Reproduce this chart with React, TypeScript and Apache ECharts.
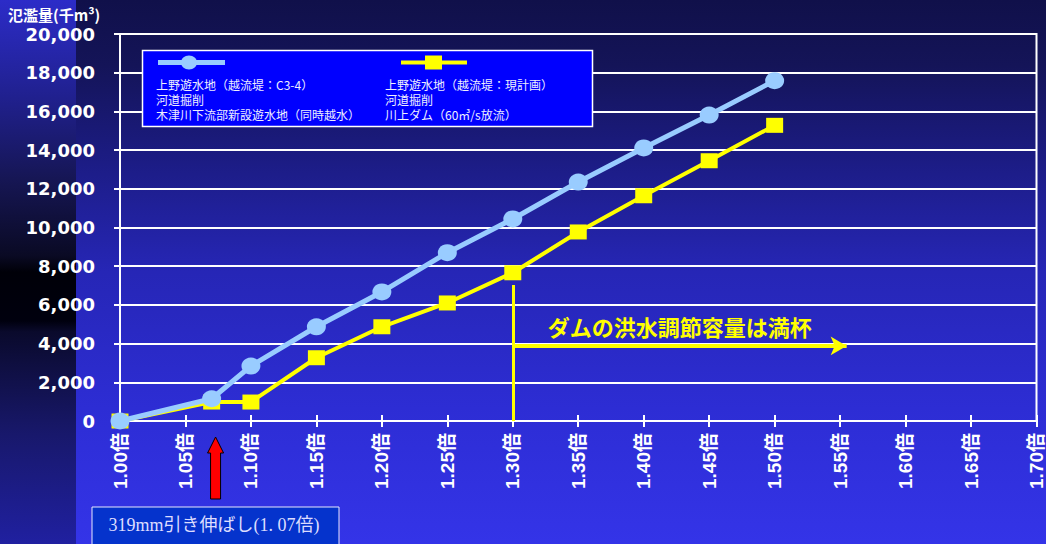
import React, { useEffect, useRef } from "react";
import * as echarts from "echarts";

// ---- data ----
const xMultipliers = [1.0, 1.07, 1.1, 1.15, 1.2, 1.25, 1.3, 1.35, 1.4, 1.45, 1.5];
const seriesC34 = [0, 1150, 2840, 4870, 6670, 8700, 10440, 12350, 14110, 15810, 17590];
const seriesPlan = [0, 980, 980, 3270, 4870, 6100, 7660, 9770, 11640, 13450, 15280];

const legendLeftLines = ["上野遊水地（越流堤：C3-4）", "河道掘削", "木津川下流部新設遊水地（同時越水）"];
const legendRightLines = ["上野遊水地（越流堤：現計画）", "河道掘削", "川上ダム（60㎥/s放流）"];

const yTitle = "氾濫量(千m³)";
const damFullText = "ダムの洪水調節容量は満杯";
const damFullX = 1.3;
const damLineTop = 7030;
const damArrowY = 3880;
const damArrowEndX = 1.555;
const stretchX = 1.073;
const stretchText = "319mm引き伸ばし(1. 07倍)";

const xMin = 1.0;
const xMax = 1.7;
const xStep = 0.05;
const yMin = 0;
const yMax = 20000;
const yStep = 2000;

const CJK = "'Noto Sans CJK JP', sans-serif";

export default function App() {
  const ref = useRef<HTMLDivElement>(null);

  useEffect(() => {
    if (!ref.current) return;
    const chart = echarts.init(ref.current, null, { renderer: "svg" });

    const option: any = {
      animation: false,
      backgroundColor: new echarts.graphic.LinearGradient(0, 0, 0, 1, [
        { offset: 0, color: "#10104a" },
        { offset: 0.12, color: "#141458" },
        { offset: 0.28, color: "#1b1b80" },
        { offset: 0.5, color: "#2626b6" },
        { offset: 0.75, color: "#2d2dd4" },
        { offset: 1, color: "#3434e8" },
      ]),
      grid: {
        left: 120,
        right: 5,
        top: 34,
        bottom: 123,
        show: true,
        borderColor: "#ffffff",
        borderWidth: 2,
        backgroundColor: "transparent",
      },
      xAxis: [
        {
          type: "value",
          min: xMin,
          max: xMax,
          interval: xStep,
          axisLine: { show: true, lineStyle: { color: "#fff", width: 2 } },
          axisTick: { show: true, length: 6, lineStyle: { color: "#fff", width: 2 } },
          splitLine: { show: false },
          axisLabel: {
            rotate: 90,
            margin: 12,
            color: "#fff",
            fontSize: 19,
            fontWeight: "bold",
            fontFamily: "'Liberation Sans', 'Noto Sans CJK JP', sans-serif",
            formatter: (v: number) => v.toFixed(2) + "倍",
          },
        },
        {
          type: "value",
          position: "bottom",
          min: xMin,
          max: xMax,
          interval: xStep,
          axisLine: { show: false },
          axisTick: { show: true, inside: true, length: 6, lineStyle: { color: "#fff", width: 2 } },
          splitLine: { show: false },
          axisLabel: { show: false },
        },
      ],
      yAxis: {
        type: "value",
        min: yMin,
        max: yMax,
        interval: yStep,
        axisLine: { show: true, lineStyle: { color: "#fff", width: 2 } },
        axisTick: { show: true, length: 6, lineStyle: { color: "#fff", width: 2 } },
        splitLine: { show: true, lineStyle: { color: "#fff", width: 2 } },
        axisLabel: {
          margin: 25,
          color: "#fff",
          fontSize: 18,
          fontWeight: "bold",
          fontFamily: "'DejaVu Sans', sans-serif",
          formatter: (v: number) => v.toLocaleString("en-US"),
        },
      },
      series: [
        {
          type: "line",
          name: "plan",
          data: xMultipliers.map((x, i) => [x, seriesPlan[i]]),
          symbol: "rect",
          symbolSize: [17, 15],
          lineStyle: { color: "#ffff00", width: 4 },
          itemStyle: { color: "#ffff00" },
          z: 3,
          markLine: {
            silent: true,
            animation: false,
            symbol: ["none", "none"],
            label: { show: false },
            lineStyle: { color: "#ffff00", width: 3, type: "solid" },
            data: [
              [
                { coord: [damFullX, damLineTop], symbol: "none" },
                { coord: [damFullX, 0], symbol: "none" },
              ],
              [
                {
                  coord: [damFullX, damArrowY],
                  symbol: "none",
                  lineStyle: { color: "#ffff00", width: 4, type: "solid" },
                  label: {
                    show: true,
                    position: "middle",
                    distance: 9,
                    formatter: damFullText,
                    color: "#ffff00",
                    fontSize: 22,
                    fontWeight: "bold",
                    fontFamily: CJK,
                  },
                },
                { coord: [damArrowEndX, damArrowY], symbol: "arrow", symbolSize: [14, 16] },
              ],
            ],
          },
        },
        {
          type: "line",
          name: "c34",
          data: xMultipliers.map((x, i) => [x, seriesC34[i]]),
          symbol: "circle",
          symbolSize: [19, 17],
          lineStyle: { color: "#99ccff", width: 5 },
          itemStyle: { color: "#99ccff" },
          z: 4,
        },
      ],
    };
    chart.setOption(option);

    const ax = chart.convertToPixel({ xAxisIndex: 0 }, stretchX) as number;

    const legendText = (x: number, lines: string[]) =>
      lines.map((t, i) => ({
        type: "text",
        z: 12,
        x,
        y: 84 + i * 15,
        style: {
          text: t,
          fill: "#eef",
          font: `12px ${CJK}`,
          textVerticalAlign: "middle",
        },
      }));

    chart.setOption({
      graphic: [
        {
          type: "rect",
          z: -10,
          shape: { x: 0, y: 0, width: 76, height: 544 },
          style: {
            fill: new echarts.graphic.LinearGradient(0, 0, 0, 1, [
              { offset: 0, color: "#2c2cc8" },
              { offset: 0.18, color: "#20208e" },
              { offset: 0.33, color: "#161654" },
              { offset: 0.47, color: "#0a0a24" },
              { offset: 0.5, color: "#000008" },
              { offset: 0.59, color: "#00000e" },
              { offset: 0.61, color: "#0a0a2c" },
              { offset: 0.8, color: "#18186c" },
              { offset: 1, color: "#2020a0" },
            ]),
          },
        },
        {
          type: "text",
          x: 8,
          y: 14,
          style: {
            text: yTitle,
            fill: "#fff",
            font: `bold 15px ${CJK}`,
            textVerticalAlign: "middle",
          },
        },
        // legend box
        {
          type: "rect",
          shape: { x: 142.5, y: 50.5, width: 450, height: 76 },
          style: { fill: "#0000ff", stroke: "#ffffff", lineWidth: 1.5 },
          z: 10,
        },
        {
          type: "line",
          shape: { x1: 158, y1: 62.5, x2: 225, y2: 62.5 },
          style: { stroke: "#99ccff", lineWidth: 5 },
          z: 11,
        },
        {
          type: "ellipse",
          shape: { cx: 189, cy: 62.5, rx: 8, ry: 7 },
          style: { fill: "#99ccff" },
          z: 12,
        },
        {
          type: "line",
          shape: { x1: 401, y1: 62.5, x2: 467, y2: 62.5 },
          style: { stroke: "#ffff00", lineWidth: 4 },
          z: 11,
        },
        {
          type: "rect",
          shape: { x: 425, y: 55.5, width: 17, height: 14 },
          style: { fill: "#ffff00" },
          z: 12,
        },
        ...legendText(156, legendLeftLines),
        ...legendText(385, legendRightLines),
        // red arrow
        {
          type: "polygon",
          z: 10,
          shape: {
            points: [
              [ax, 437],
              [ax + 8, 453],
              [ax + 5, 453],
              [ax + 5, 499],
              [ax - 5, 499],
              [ax - 5, 453],
              [ax - 8, 453],
            ],
          },
          style: { fill: "#ff0000", stroke: "#000000", lineWidth: 1 },
        },
        // bottom note box
        {
          type: "rect",
          z: 10,
          shape: { x: 92, y: 507, width: 247, height: 45 },
          style: { fill: "#0533cc", stroke: "#e8e8ff", lineWidth: 1 },
        },
        {
          type: "text",
          z: 11,
          x: 214,
          y: 525,
          style: {
            text: stretchText,
            fill: "#dcdcff",
            font: "18px 'Liberation Serif', 'Noto Sans CJK JP', serif",
            textAlign: "center",
            textVerticalAlign: "middle",
          },
        },
      ],
    });

    return () => chart.dispose();
  }, []);

  return (
    <div
      ref={ref}
      style={{ position: "fixed", left: 0, top: 0, width: 1046, height: 544 }}
    />
  );
}
